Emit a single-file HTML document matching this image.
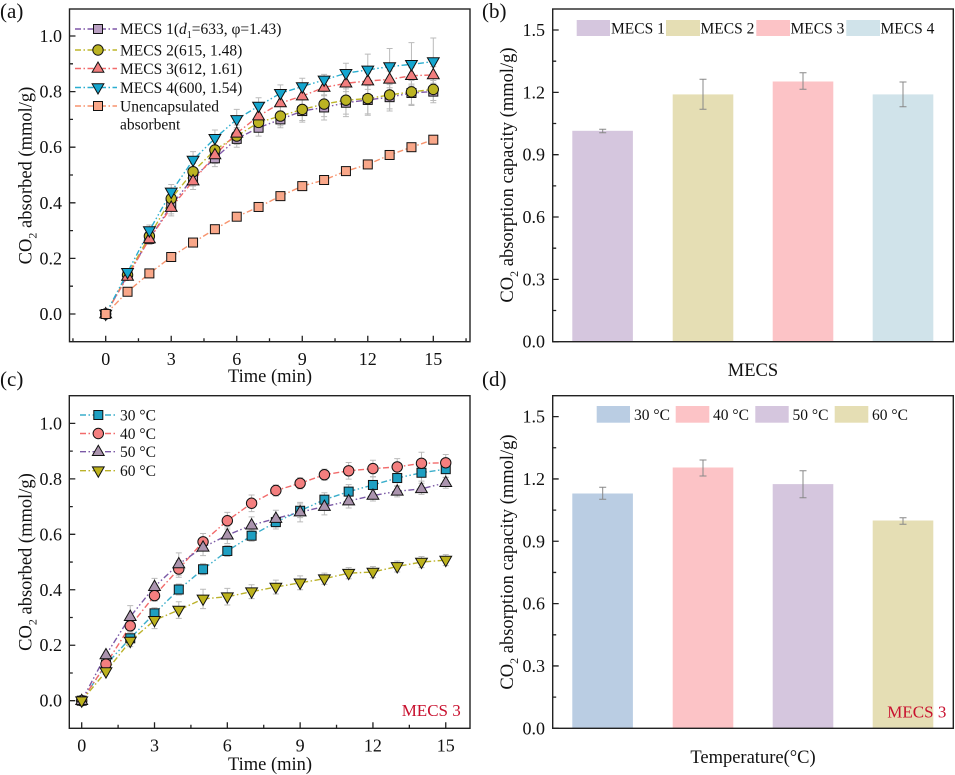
<!DOCTYPE html>
<html><head><meta charset="utf-8">
<style>
html,body{margin:0;padding:0;background:#fff;}
svg{display:block;font-family:"Liberation Serif","DejaVu Serif",serif;}
.tl{font-size:18px;fill:#111;}
.at{font-size:18.5px;fill:#111;}
.lg{font-size:15.5px;fill:#111;}
.pl{font-size:21px;fill:#111;}
.red{font-size:17px;fill:#c8102e;}
</style></head><body>
<svg id="s" width="955" height="775" viewBox="0 0 955 775" xmlns="http://www.w3.org/2000/svg">
<rect x="0" y="0" width="955" height="775" fill="#fff"/>
<g id="bars">
<rect x="572.3" y="130.8" width="60.6" height="210.9" fill="#d5c6de"/>
<rect x="672.7" y="94.4" width="60.6" height="247.3" fill="#e5deb4"/>
<rect x="772.7" y="81.5" width="60.6" height="260.2" fill="#fcc3c6"/>
<rect x="872.7" y="94.4" width="60.6" height="247.3" fill="#d0e3ea"/>
<rect x="572.3" y="493.5" width="60.6" height="234.8" fill="#bacde3"/>
<rect x="672.7" y="467.5" width="60.6" height="260.8" fill="#fcc3c6"/>
<rect x="772.7" y="484.1" width="60.6" height="244.2" fill="#d5c6de"/>
<rect x="872.7" y="520.5" width="60.6" height="207.8" fill="#e5deb4"/>
</g>
<g id="berr" stroke="#888" stroke-width="1" fill="none">
<path d="M602.7 129.3V132.7M599.2 129.3H606.2M599.2 132.7H606.2"/>
<path d="M703 79.3V109.3M699.5 79.3H706.5M699.5 109.3H706.5"/>
<path d="M803 72.7V89.3M799.5 72.7H806.5M799.5 89.3H806.5"/>
<path d="M903 82V106.7M899.5 82H906.5M899.5 106.7H906.5"/>
<path d="M602.7 487.3V499.3M599.2 487.3H606.2M599.2 499.3H606.2"/>
<path d="M703 460V476M699.5 460H706.5M699.5 476H706.5"/>
<path d="M803 470.7V497.7M799.5 470.7H806.5M799.5 497.7H806.5"/>
<path d="M903 517.7V524.3M899.5 517.7H906.5M899.5 524.3H906.5"/>
</g>
<g id="dyn"></g>
<g fill="none" stroke="#222" stroke-width="1.4">
<rect x="69.5" y="9" width="400.5" height="332.7"/>
<rect x="552.7" y="9" width="400.6" height="332.7"/>
<rect x="69.3" y="395.7" width="400.7" height="332.6"/>
<rect x="552.7" y="395.7" width="400.6" height="332.6"/>
</g>
<text class="pl" x="0" y="18">(a)</text>
<text class="pl" x="482" y="18">(b)</text>
<text class="pl" x="0" y="386">(c)</text>
<text class="pl" x="482" y="386">(d)</text>

<g class="tl" text-anchor="end">
<text x="62" y="320">0.0</text>
<text x="62" y="264.4">0.2</text>
<text x="62" y="208.8">0.4</text>
<text x="62" y="153.2">0.6</text>
<text x="62" y="97.6">0.8</text>
<text x="62" y="42">1.0</text>
</g>
<g class="tl" text-anchor="middle">
<text x="105.7" y="365">0</text>
<text x="171.2" y="365">3</text>
<text x="236.7" y="365">6</text>
<text x="302.3" y="365">9</text>
<text x="367.8" y="365">12</text>
<text x="433.3" y="365">15</text>
</g>
<text class="at" x="270" y="382" text-anchor="middle">Time (min)</text>
<text class="at" transform="translate(31.5,175.5) rotate(-90)" text-anchor="middle">CO<tspan font-size="12" dy="5">2</tspan><tspan dy="-5"> absorbed (mmol/g)</tspan></text>

<g class="tl" text-anchor="end">
<text x="62" y="706.7">0.0</text>
<text x="62" y="651.2">0.2</text>
<text x="62" y="595.8">0.4</text>
<text x="62" y="540.3">0.6</text>
<text x="62" y="484.9">0.8</text>
<text x="62" y="429.4">1.0</text>
</g>
<g class="tl" text-anchor="middle">
<text x="81.7" y="751.5">0</text>
<text x="154.5" y="751.5">3</text>
<text x="227.3" y="751.5">6</text>
<text x="300.1" y="751.5">9</text>
<text x="372.9" y="751.5">12</text>
<text x="445.7" y="751.5">15</text>
</g>
<text class="at" x="270" y="770" text-anchor="middle">Time (min)</text>
<text class="at" transform="translate(31.5,562) rotate(-90)" text-anchor="middle">CO<tspan font-size="12" dy="5">2</tspan><tspan dy="-5"> absorbed (mmol/g)</tspan></text>
<text class="red" x="401.7" y="716">MECS 3</text>

<g class="tl" text-anchor="end">
<text x="545" y="347.7">0.0</text>
<text x="545" y="285.4">0.3</text>
<text x="545" y="223">0.6</text>
<text x="545" y="160.7">0.9</text>
<text x="545" y="98.3">1.2</text>
<text x="545" y="36">1.5</text>
</g>
<text class="at" x="753" y="376" text-anchor="middle">MECS</text>
<text class="at" transform="translate(513,175) rotate(-90)" text-anchor="middle">CO<tspan font-size="12" dy="5">2</tspan><tspan dy="-5"> absorption capacity (mmol/g)</tspan></text>
<rect x="576.7" y="20" width="33.3" height="16" fill="#d5c6de"/>
<rect x="666" y="20" width="34" height="16" fill="#e5deb4"/>
<rect x="756.3" y="20" width="33.7" height="16" fill="#fcc3c6"/>
<rect x="846.3" y="20" width="33.7" height="16" fill="#d0e3ea"/>
<g class="lg">
<text x="611" y="33.5">MECS 1</text>
<text x="700.5" y="33.5">MECS 2</text>
<text x="790.5" y="33.5">MECS 3</text>
<text x="880.5" y="33.5">MECS 4</text>
</g>

<g class="tl" text-anchor="end">
<text x="545" y="734.3">0.0</text>
<text x="545" y="672">0.3</text>
<text x="545" y="609.6">0.6</text>
<text x="545" y="547.3">0.9</text>
<text x="545" y="484.9">1.2</text>
<text x="545" y="422.6">1.5</text>
</g>
<text class="at" x="753" y="763" text-anchor="middle">Temperature(°C)</text>
<text class="at" transform="translate(513,562) rotate(-90)" text-anchor="middle">CO<tspan font-size="12" dy="5">2</tspan><tspan dy="-5"> absorption capacity (mmol/g)</tspan></text>
<rect x="596.7" y="406" width="33.3" height="16.7" fill="#bacde3"/>
<rect x="675.7" y="406" width="33.6" height="16.7" fill="#fcc3c6"/>
<rect x="755.3" y="406" width="33.4" height="16.7" fill="#d5c6de"/>
<rect x="834.7" y="406" width="33.6" height="16.7" fill="#e5deb4"/>
<g class="lg">
<text x="634" y="420">30 °C</text>
<text x="713" y="420">40 °C</text>
<text x="792.5" y="420">50 °C</text>
<text x="872" y="420">60 °C</text>
</g>
<text class="red" x="887.3" y="717.3">MECS 3</text>

<g class="lg">
<text x="120" y="34">MECS 1(<tspan font-style="italic">d</tspan><tspan font-size="10" dy="4">1</tspan><tspan dy="-4">=633, φ=1.43)</tspan></text>
<text x="120" y="55.5">MECS 2(615, 1.48)</text>
<text x="120" y="74">MECS 3(612, 1.61)</text>
<text x="120" y="93">MECS 4(600, 1.54)</text>
<text x="120" y="111.5">Unencapsulated</text>
<text x="120" y="129.5">absorbent</text>
</g>
<g class="lg">
<text x="120" y="420.5">30 °C</text>
<text x="120" y="439">40 °C</text>
<text x="120" y="457">50 °C</text>
<text x="120" y="476">60 °C</text>
</g>
</svg>
<script>
(function(){
var NS="http://www.w3.org/2000/svg";
var g=document.getElementById("dyn");
function el(t,a,p){var e=document.createElementNS(NS,t);for(var k in a)e.setAttribute(k,a[k]);(p||g).appendChild(e);return e;}
function marker(type,x,y,fill){
  var st={fill:fill,stroke:"#111","stroke-width":1};
  if(type==="sq"){st.x=x-4.5;st.y=y-4.5;st.width=9;st.height=9;el("rect",st);}
  else if(type==="ci"){st.cx=x;st.cy=y;st.r=5.2;el("circle",st);}
  else if(type==="up"){st.points=(x)+","+(y-6.5)+" "+(x+5.9)+","+(y+3.8)+" "+(x-5.9)+","+(y+3.8);el("polygon",st);}
  else if(type==="dn"){st.points=(x)+","+(y+6.5)+" "+(x+5.9)+","+(y-3.8)+" "+(x-5.9)+","+(y-3.8);el("polygon",st);}
}
function ticks(L,T,R,B,xs,xm,ys,ym){
  var d="";
  xs.forEach(function(x){d+="M"+x+" "+B+"V"+(B-6);});
  xm.forEach(function(x){d+="M"+x+" "+B+"V"+(B-3.5);});
  ys.forEach(function(y){d+="M"+L+" "+y+"H"+(L+6);});
  ym.forEach(function(y){d+="M"+L+" "+y+"H"+(L+3.5);});
  if(d)el("path",{d:d,stroke:"#222","stroke-width":1.3,fill:"none"});
}
function ax(t){return 105.7+21.84*t;} function ay(v){return 314-278*v;}
function cx(t){return 81.7+24.27*t;} function cy(v){return 700.7-277.3*v;}
var xs=[],xm=[],ys=[],ym=[];
for(var t=0;t<=15;t+=3)xs.push(ax(t));
[-1.5,1.5,4.5,7.5,10.5,13.5,16.5].forEach(function(t){xm.push(ax(t));});
for(var i=0;i<=5;i++)ys.push(ay(0.2*i));
for(var i=0;i<5;i++)ym.push(ay(0.1+0.2*i));
ticks(69.5,9,470,341.7,xs,xm,ys,ym);
xs=[];xm=[];ys=[];ym=[];
for(var t=0;t<=15;t+=3)xs.push(cx(t));
[1.5,4.5,7.5,10.5,13.5].forEach(function(t){xm.push(cx(t));});
for(var i=0;i<=5;i++)ys.push(cy(0.2*i));
for(var i=0;i<5;i++)ym.push(cy(0.1+0.2*i));
ticks(69.3,395.7,470,728.3,xs,xm,ys,ym);
function bd(T,B){
  var ys=[],ym=[];
  for(var i=0;i<=5;i++)ys.push(B-207.8*0.3*i);
  for(var i=0;i<5;i++)ym.push(B-207.8*(0.15+0.3*i));
  ticks(552.7,T,953.3,B,[],[],ys,ym);
}
bd(9,341.7);bd(395.7,728.3);

function series(mx,my,data,err,line,fill,mk,dash){
  var d="";
  data.forEach(function(v,i){var e=err[i];if(e>0){var x=mx(i);d+="M"+x+" "+my(v-e)+"V"+my(v+e)+"M"+(x-3)+" "+my(v-e)+"H"+(x+3)+"M"+(x-3)+" "+my(v+e)+"H"+(x+3);}});
  if(d)el("path",{d:d,stroke:"#bbb","stroke-width":1,fill:"none"});
  var pts=data.map(function(v,i){return mx(i)+","+my(v);}).join(" ");
  el("polyline",{points:pts,fill:"none",stroke:line,"stroke-width":1.4,"stroke-dasharray":dash});
  return function(){data.forEach(function(v,i){marker(mk,mx(i),my(v),fill);});};
}
var A=[
 {d:[0,0.14,0.27,0.39,0.49,0.56,0.63,0.67,0.70,0.73,0.743,0.76,0.77,0.78,0.795,0.80],e:[0,.01,.02,.03,.03,.03,.03,.03,.03,.04,.045,.05,.055,.05,.045,.04],l:"#7e57a8",f:"#b9a0c2",m:"sq",s:"6,2.5,1.5,2.5,1.5,2.5"},
 {d:[0,0.14,0.28,0.415,0.512,0.59,0.64,0.689,0.712,0.736,0.755,0.769,0.775,0.788,0.799,0.808],e:[0,.01,.02,.03,.03,.03,.03,.03,.035,.04,.045,.05,.055,.05,.045,.04],l:"#bdb52a",f:"#bcb423",m:"ci",s:"6,2.5,1.5,2.5"},
 {d:[0,0.135,0.27,0.383,0.478,0.572,0.65,0.712,0.759,0.784,0.815,0.83,0.838,0.844,0.857,0.86],e:[0,.01,.02,.03,.03,.03,.03,.03,.03,.03,.03,.03,.03,.03,.03,.03],l:"#f26b6b",f:"#f27e7e",m:"up",s:"6,2.5,1.5,2.5"},
 {d:[0,0.15,0.30,0.439,0.554,0.632,0.70,0.748,0.794,0.818,0.842,0.866,0.878,0.89,0.898,0.908],e:[0,.01,.02,.027,.03,.03,.036,.03,.03,.03,.02,.036,.057,.065,.078,.085],l:"#2aaed0",f:"#14a6cf",m:"dn",s:"6,2.5,1.5,2.5,1.5,2.5"},
 {d:[0,0.08,0.146,0.205,0.257,0.305,0.35,0.385,0.424,0.46,0.482,0.514,0.538,0.572,0.60,0.627],e:[0,0,0,0,0,0,0,0,0,0,0,0,0,0,0,0],l:"#f7946e",f:"#f9a789",m:"sq",s:"6,2.5,1.5,2.5"}
];
var C=[
 {d:[0,0.13,0.225,0.315,0.401,0.474,0.54,0.595,0.644,0.685,0.725,0.754,0.778,0.803,0.822,0.835],e:[0,.01,.02,.02,.02,.02,.02,.02,.025,.025,.025,.025,.03,.03,.03,.03],l:"#3aaecb",f:"#1e9fc2",m:"sq",s:"6,2.5,1.5,2.5,1.5,2.5"},
 {d:[0,0.132,0.27,0.379,0.475,0.573,0.649,0.712,0.758,0.784,0.815,0.829,0.837,0.843,0.856,0.858],e:[0,.01,.02,.02,.03,.03,.03,.03,.02,.02,.02,.03,.03,.03,.04,.03],l:"#f26b6b",f:"#f47f7f",m:"ci",s:"6,2.5,1.5,2.5"},
 {d:[0,0.165,0.303,0.411,0.493,0.553,0.597,0.633,0.657,0.68,0.70,0.72,0.74,0.755,0.764,0.786],e:[0,.01,.04,.03,.04,.03,.03,.03,.03,.035,.03,.025,.02,.02,.02,.02],l:"#7b5aa6",f:"#ab94ae",m:"up",s:"6,2.5,1.5,2.5,1.5,2.5"},
 {d:[0,0.105,0.215,0.29,0.327,0.367,0.375,0.393,0.41,0.425,0.44,0.46,0.464,0.484,0.50,0.507],e:[0,.01,.02,.03,.03,.035,.03,.025,.025,.025,.02,.02,.02,.02,.02,.02],l:"#bbb22a",f:"#bdb21c",m:"dn",s:"6,2.5,1.5,2.5"}
];
var draws=[];
A.forEach(function(s){draws.push(series(ax,ay,s.d,s.e,s.l,s.f,s.m,s.s));});
C.forEach(function(s){draws.push(series(cx,cy,s.d,s.e,s.l,s.f,s.m,s.s));});
draws.forEach(function(f){f();});
var ly=[29,50,68.5,87.5,106];
A.forEach(function(s,i){
  el("line",{x1:75,y1:ly[i],x2:117,y2:ly[i],stroke:s.l,"stroke-width":1.4,"stroke-dasharray":"6,2.5,1.5,2.5"});
  marker(s.m,98,ly[i],s.f);
});
var cly=[415,433.5,451.7,470.7];
C.forEach(function(s,i){
  el("line",{x1:80,y1:cly[i],x2:117,y2:cly[i],stroke:s.l,"stroke-width":1.4,"stroke-dasharray":"6,2.5,1.5,2.5"});
  marker(s.m,98.3,cly[i],s.f);
});
})();
</script>
</body></html>
